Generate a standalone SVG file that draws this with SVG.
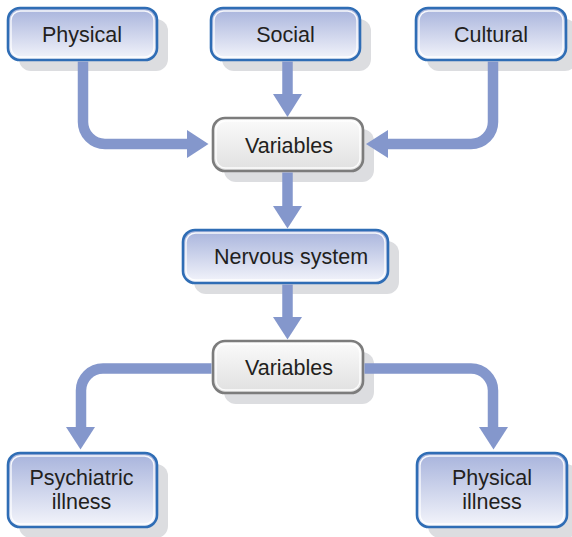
<svg xmlns="http://www.w3.org/2000/svg" width="572" height="537" viewBox="0 0 572 537">
<defs>
<linearGradient id="gb" x1="0" y1="0" x2="0" y2="1">
<stop offset="0" stop-color="#a7b3dc"/>
<stop offset="1" stop-color="#f4f5fb"/>
</linearGradient>
<linearGradient id="gg" x1="0" y1="0" x2="0" y2="1">
<stop offset="0" stop-color="#fbfbfb"/>
<stop offset="1" stop-color="#e0e0e0"/>
</linearGradient>
</defs>
<style>
.sh{fill:#dcdde0}
.bb{fill:url(#gb);stroke:#2f6db5;stroke-width:2.6}
.gb{fill:url(#gg);stroke:#7c7c7c;stroke-width:2.6}
.in{fill:none;stroke:#ffffff;stroke-width:1.4;opacity:0.9}
.t{font-family:"Liberation Sans",Arial,sans-serif;font-size:21.5px;fill:#231f20;text-anchor:middle}
.c{fill:none;stroke:#8497cc;stroke-width:10.5}
.a{fill:#8497cc}
</style>
<rect width="572" height="537" fill="#ffffff"/>
<g id="node-physical">
<rect class="sh" x="19" y="19" width="149" height="52" rx="12"/>
<rect class="bb" x="8" y="8" width="149" height="52" rx="12"/>
<rect class="in" x="11" y="11" width="143" height="46" rx="9.5"/>
<text class="t" x="82" y="41.5">Physical</text>
</g>
<g id="node-social">
<rect class="sh" x="222" y="19" width="149" height="52" rx="12"/>
<rect class="bb" x="211" y="8" width="149" height="52" rx="12"/>
<rect class="in" x="214" y="11" width="143" height="46" rx="9.5"/>
<text class="t" x="285.5" y="41.5">Social</text>
</g>
<g id="node-cultural">
<rect class="sh" x="427" y="19" width="150" height="52" rx="12"/>
<rect class="bb" x="416" y="8" width="150" height="52" rx="12"/>
<rect class="in" x="419" y="11" width="144" height="46" rx="9.5"/>
<text class="t" x="491" y="41.5">Cultural</text>
</g>
<g id="node-variables1">
<rect class="sh" x="224" y="129" width="150" height="53" rx="12"/>
<rect class="gb" x="213" y="118" width="150" height="53" rx="12"/>
<rect class="in" x="216" y="121" width="144" height="47" rx="9.5"/>
<text class="t" x="289" y="152.5">Variables</text>
</g>
<g id="node-nervous">
<rect class="sh" x="194" y="241" width="205" height="53" rx="12"/>
<rect class="bb" x="183" y="230" width="205" height="53" rx="12"/>
<rect class="in" x="186" y="233" width="199" height="47" rx="9.5"/>
<text class="t" x="291" y="263.5">Nervous system</text>
</g>
<g id="node-variables2">
<rect class="sh" x="224" y="352" width="150" height="52" rx="12"/>
<rect class="gb" x="213" y="341" width="150" height="52" rx="12"/>
<rect class="in" x="216" y="344" width="144" height="46" rx="9.5"/>
<text class="t" x="289" y="374.5">Variables</text>
</g>
<g id="node-psychiatric">
<rect class="sh" x="19" y="464" width="149" height="74" rx="12"/>
<rect class="bb" x="8" y="453" width="149" height="74" rx="12"/>
<rect class="in" x="11" y="456" width="143" height="68" rx="9.5"/>
<text class="t" x="81.5" y="485">Psychiatric</text>
<text class="t" x="81.5" y="509">illness</text>
</g>
<g id="node-physical-illness">
<rect class="sh" x="428" y="464" width="150" height="74" rx="12"/>
<rect class="bb" x="417" y="453" width="150" height="74" rx="12"/>
<rect class="in" x="420" y="456" width="144" height="68" rx="9.5"/>
<text class="t" x="492" y="485">Physical</text>
<text class="t" x="492" y="509">illness</text>
</g>
<g id="connectors">
<path class="c" d="M83 61.5 V122 A22 22 0 0 0 105 144 H189"/>
<polygon class="a" points="187,130 208.5,144 187,158"/>
<path class="c" d="M287.5 61.5 V96"/>
<polygon class="a" points="273,94 302,94 287.5,117"/>
<path class="c" d="M493 61.5 V122 A22 22 0 0 1 471 144 H386"/>
<polygon class="a" points="388,130 366,144 388,158"/>
<path class="c" d="M287.5 172.5 V208"/>
<polygon class="a" points="273,206 302,206 287.5,228.5"/>
<path class="c" d="M287.5 284.5 V319"/>
<polygon class="a" points="273,317 302,317 287.5,339.5"/>
<path class="c" d="M211.5 368.5 H103 A22 22 0 0 0 81 390.5 V429"/>
<polygon class="a" points="66,427 95,427 80.5,449.5"/>
<path class="c" d="M364.5 368.5 H471 A22 22 0 0 1 493 390.5 V429"/>
<polygon class="a" points="479,427 508,427 493.5,449.5"/>
</g>
</svg>
